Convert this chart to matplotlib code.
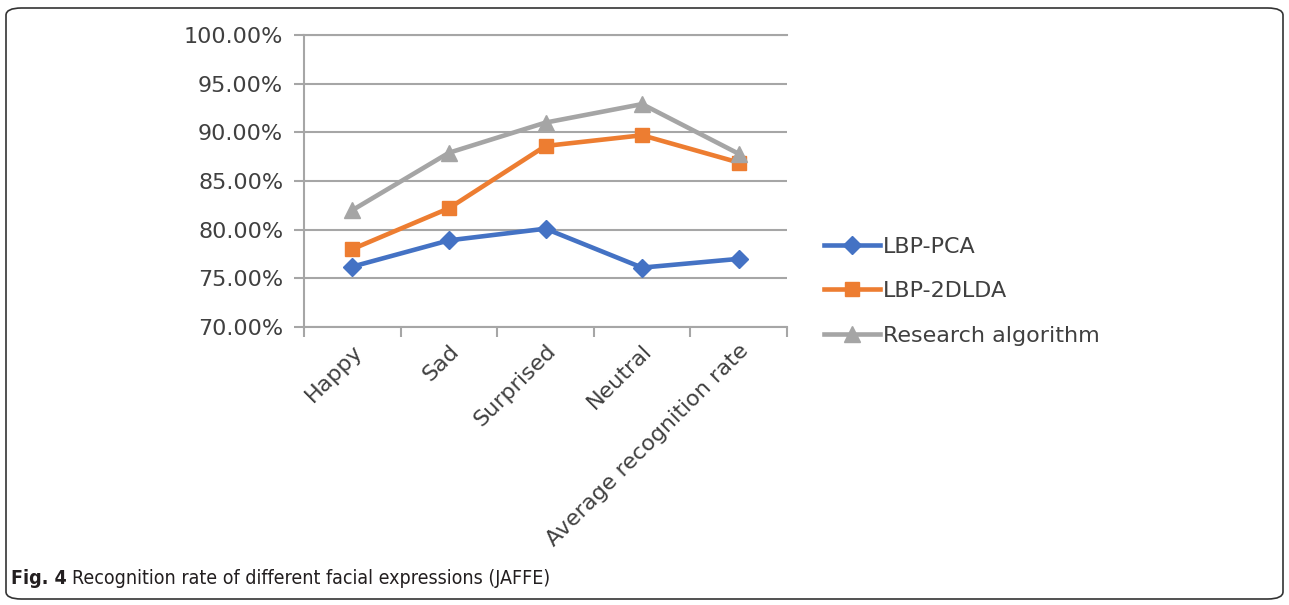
"""Recognition rate of different facial expressions (JAFFE) -- line chart."""

import matplotlib
matplotlib.use("Agg")
import matplotlib.pyplot as plt
from matplotlib.patches import FancyBboxPatch
from matplotlib.ticker import FixedLocator, FuncFormatter

# ---------------------------------------------------------------------------
# Data
# ---------------------------------------------------------------------------
categories = ["Happy", "Sad", "Surprised", "Neutral", "Average recognition rate"]
lbp_pca    = [76.2, 78.9, 80.1, 76.1, 77.0]
lbp_2dlda  = [78.0, 82.2, 88.6, 89.7, 86.9]
research   = [82.0, 87.9, 91.0, 92.9, 87.8]
y_ticks    = [70, 75, 80, 85, 90, 95, 100]

BLUE   = "#4472C4"
ORANGE = "#ED7D31"
GRAY   = "#A5A5A5"
GRID   = "#A6A6A6"
TEXT   = "#404040"

W, H = 1289, 605
fig = plt.figure(figsize=(W / 100, H / 100), dpi=100, facecolor="white")

# axes placed in pixel coordinates of the reference
x0, x1, ytop, ybot = 304, 787, 35, 327
ax = fig.add_axes([x0 / W, 1 - ybot / H, (x1 - x0) / W, (ybot - ytop) / H])

x = list(range(len(categories)))
ax.plot(x, lbp_pca, color=BLUE, lw=3.3, marker="D", ms=9, label="LBP-PCA")
ax.plot(x, lbp_2dlda, color=ORANGE, lw=3.3, marker="s", ms=10, label="LBP-2DLDA")
ax.plot(x, research, color=GRAY, lw=3.3, marker="^", ms=11, label="Research algorithm")

ax.set_xlim(-0.5, len(categories) - 0.5)
ax.set_ylim(70, 100)
ax.set_yticks(y_ticks)
ax.yaxis.set_major_formatter(FuncFormatter(lambda v, _: f"{v:.2f}%"))
ax.grid(axis="y", color=GRID, lw=1.5)
ax.set_axisbelow(True)

# category labels at centres, tick marks at boundaries
ax.set_xticks(x)
ax.set_xticklabels(categories, rotation=45, ha="right", rotation_mode="anchor",
                   fontsize=16, color=TEXT)
ax.tick_params(axis="x", length=0, pad=10)
ax.xaxis.set_minor_locator(FixedLocator([i - 0.5 for i in range(len(categories) + 1)]))
ax.tick_params(axis="x", which="minor", length=7, width=1.5, color=GRID, direction="out")
ax.tick_params(axis="y", length=7, width=1.5, color=GRID, direction="out",
               labelsize=16, labelcolor=TEXT, pad=8)

ax.spines["right"].set_visible(False)
for side in ("left", "bottom", "top"):
    ax.spines[side].set_color(GRID)
    ax.spines[side].set_linewidth(1.5)

ax.legend(loc="center left", bbox_to_anchor=((824 - x0) / (x1 - x0), 0.123),
          frameon=False, fontsize=16, labelcolor=TEXT, handlelength=2.5,
          handletextpad=0.15, labelspacing=1.1, borderaxespad=0, borderpad=0)

# rounded frame round the whole figure
frame = FancyBboxPatch((6 / W, 6 / H), (W - 12) / W, (H - 14) / H,
                       boxstyle="round,pad=0,rounding_size=0.012",
                       transform=fig.transFigure, fill=False,
                       edgecolor="#333333", lw=1.2)
fig.patches.append(frame)

# caption: bold "Fig. 4" then regular text
cap_font = ["Liberation Sans Narrow", "DejaVu Sans"]
t = fig.text(11 / W, 1 - 584 / H, "Fig. 4", fontsize=14, fontweight="bold",
             family=cap_font, fontstretch="condensed", va="baseline",
             color="#231f20")
fig.canvas.draw()
bb = t.get_window_extent()
fig.text((bb.x1 + 5) / W, 1 - 584 / H,
         "Recognition rate of different facial expressions (JAFFE)",
         fontsize=14, family=cap_font, fontstretch="condensed",
         va="baseline", color="#231f20")

fig.savefig("out.png", dpi=100, facecolor="white")
plt.close(fig)
